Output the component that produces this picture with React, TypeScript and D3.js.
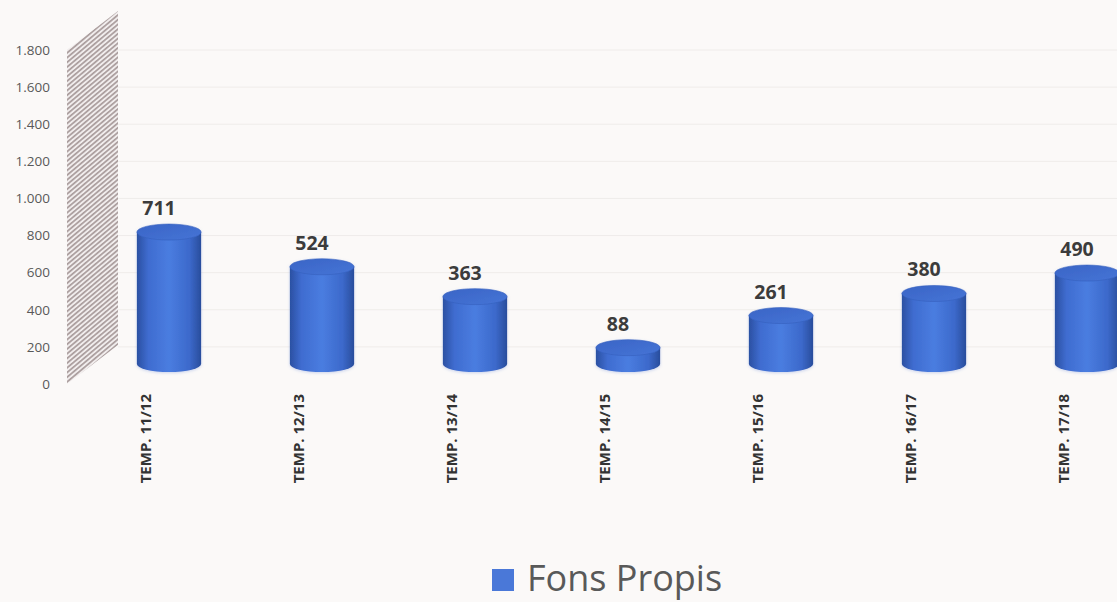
import React from 'react';
import * as d3 from 'd3';

const categories = ['TEMP. 11/12', 'TEMP. 12/13', 'TEMP. 13/14', 'TEMP. 14/15', 'TEMP. 15/16', 'TEMP. 16/17', 'TEMP. 17/18'];
const values = [711, 524, 363, 88, 261, 380, 490];
const yTicks = [0, 200, 400, 600, 800, 1000, 1200, 1400, 1600, 1800];
const seriesName = 'Fons Propis';

const width = 1117;
const height = 602;

// depth offset of the 3D back wall
const depth = { dx: 51, dy: -39 };

const fmt = (v: number) => d3.format(',d')(v).replace(/,/g, '.');

export default function App() {
  const y = d3.scaleLinear().domain([0, 1800]).range([384, 50]);
  const x = d3.scaleBand<string>()
    .domain(categories)
    .range([92.5, 1163.5])
    .paddingInner(0.58)
    .paddingOuter(0.29);

  const rx = x.bandwidth() / 2;
  const ry = 8;
  // floor of the cylinders sits half way into the depth
  const baseShift = 20;

  const wallX0 = 67;
  const wallX1 = wallX0 + depth.dx;
  const wall = [
    [wallX0, y(0)],
    [wallX0, y(1800)],
    [wallX1, y(1800) + depth.dy],
    [wallX1, y(0) + depth.dy],
  ];

  return (
    <svg width={width} height={height} style={{ position: 'absolute', left: 0, top: 0, background: '#fbf9f8' }}
      fontFamily="'Open Sans', sans-serif">
      <defs>
        <pattern id="hatch" width="3.6" height="3.6" patternUnits="userSpaceOnUse" patternTransform="rotate(-40)">
          <rect width="3.6" height="3.6" fill="#f1eded" />
          <rect width="3.6" height="1.7" fill="#aa9d9d" />
        </pattern>
        <linearGradient id="body" x1="0" x2="1" y1="0" y2="0">
          <stop offset="0%" stopColor="#2b50a2" />
          <stop offset="18%" stopColor="#3f6cd0" />
          <stop offset="50%" stopColor="#4a7de0" />
          <stop offset="82%" stopColor="#3c69cb" />
          <stop offset="100%" stopColor="#294d9c" />
        </linearGradient>
        <linearGradient id="top" x1="0" x2="1" y1="0" y2="1">
          <stop offset="0%" stopColor="#3a65c6" />
          <stop offset="100%" stopColor="#4674d6" />
        </linearGradient>
        <filter id="glow" x="-20%" y="-20%" width="140%" height="140%">
          <feDropShadow dx="0" dy="1" stdDeviation="1.5" floodColor="#6f8fd8" floodOpacity="0.35" />
        </filter>
      </defs>

      <g className="grid">
        {yTicks.filter(t => t > 0).map(t => (
          <line key={t} x1={wallX1} x2={width} y1={y(t)} y2={y(t)} stroke="#efecea" strokeWidth={1} />
        ))}
      </g>

      <polygon points={wall.map(p => p.join(',')).join(' ')} fill="url(#hatch)" />

      <g className="y axis" fontSize={13.5} fill="#595959" textAnchor="end">
        {yTicks.map(t => (
          <text key={t} x={50} y={y(t)} dy="0.35em">{fmt(t)}</text>
        ))}
      </g>

      <g className="bars">
        {values.map((v, i) => {
          const cx = (x(categories[i]) as number) + rx;
          const yb = y(0) - baseShift;
          const yt = y(v) - baseShift;
          const left = cx - rx;
          const right = cx + rx;
          const bodyPath = `M${left},${yt} L${left},${yb} A${rx},${ry} 0 0 0 ${right},${yb} L${right},${yt} Z`;
          return (
            <g key={categories[i]} filter="url(#glow)">
              <path d={bodyPath} fill="url(#body)" />
              <ellipse cx={cx} cy={yt} rx={rx} ry={ry} fill="url(#top)" stroke="#3460bd" strokeWidth={0.6} />
            </g>
          );
        })}
      </g>

      <g className="labels" fontSize={19.5} fontWeight={700} fill="#3c3c3c" textAnchor="middle">
        {values.map((v, i) => {
          const cx = (x(categories[i]) as number) + rx;
          return (
            <text key={categories[i]} x={cx - 10} y={y(v) - baseShift - ry - 9}>{fmt(v)}</text>
          );
        })}
      </g>

      <g className="x axis" fontSize={15} fontWeight={700} fill="#333333" textAnchor="end">
        {categories.map(c => {
          const cx = (x(c) as number) + rx - 23;
          return (
            <text key={c} transform={`translate(${cx},394) rotate(-90)`} dy="0.35em">{c}</text>
          );
        })}
      </g>

      <g className="legend">
        <rect x={492} y={569} width={22} height={22} fill="#4a78d8" />
        <text x={527} y={591} fontSize={36} fill="#595959">{seriesName}</text>
      </g>
    </svg>
  );
}
